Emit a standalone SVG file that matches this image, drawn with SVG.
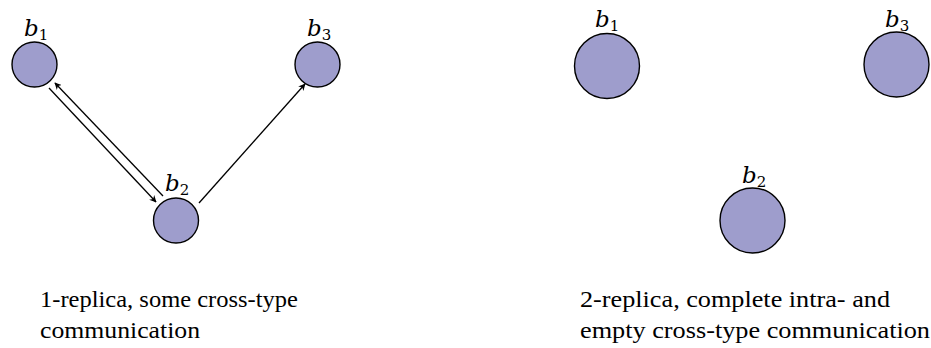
<svg xmlns="http://www.w3.org/2000/svg" width="931" height="348" viewBox="0 0 931 348">
<style>
.n{fill:#9e9dcc;stroke:#000;stroke-width:1.4}
.lbl{font-family:'DejaVu Serif','Liberation Serif',serif;font-style:italic;font-size:23px;fill:#000}
.sub{font-style:normal;font-size:15px}
.cap{font-family:'Liberation Serif','DejaVu Serif',serif;font-size:23px;fill:#000}
.e{stroke:#000;stroke-width:1.3;fill:none;marker-end:url(#ah)}
</style>
<defs>
<marker id="ah" viewBox="0 0 10 10" refX="9" refY="5" markerWidth="7" markerHeight="7" markerUnits="userSpaceOnUse" orient="auto">
<path d="M0,0 L10,5 L0,10 L3,5 Z" fill="#000"/>
</marker>
</defs>
<g id="connectors">
<line class="e" x1="49" y1="88" x2="156" y2="202"/>
<line class="e" x1="163" y1="196" x2="55" y2="83"/>
<line class="e" x1="199" y1="203" x2="305" y2="84"/>
</g>
<g id="L-b1"><circle class="n" cx="34.5" cy="64.5" r="22.5"/><text class="lbl" x="24" y="36">b<tspan class="sub" dy="4">1</tspan></text></g>
<g id="L-b3"><circle class="n" cx="317.5" cy="64.5" r="22.5"/><text class="lbl" x="307" y="36">b<tspan class="sub" dy="4">3</tspan></text></g>
<g id="L-b2"><circle class="n" cx="176" cy="220.5" r="22.5"/><text class="lbl" x="165" y="191">b<tspan class="sub" dy="4">2</tspan></text></g>
<g id="R-b1"><circle class="n" cx="607" cy="66" r="32.5"/><text class="lbl" x="595" y="27">b<tspan class="sub" dy="4">1</tspan></text></g>
<g id="R-b3"><circle class="n" cx="896.5" cy="64.5" r="32.5"/><text class="lbl" x="885" y="27">b<tspan class="sub" dy="4">3</tspan></text></g>
<g id="R-b2"><circle class="n" cx="752.5" cy="220.5" r="32.5"/><text class="lbl" x="742" y="183">b<tspan class="sub" dy="4">2</tspan></text></g>
<g id="captions">
<text class="cap" x="40" y="307" textLength="258" lengthAdjust="spacingAndGlyphs">1-replica, some cross-type</text>
<text class="cap" x="40" y="338" textLength="160" lengthAdjust="spacingAndGlyphs">communication</text>
<text class="cap" x="580" y="307" textLength="310" lengthAdjust="spacingAndGlyphs">2-replica, complete intra- and</text>
<text class="cap" x="580" y="338" textLength="350" lengthAdjust="spacingAndGlyphs">empty cross-type communication</text>
</g>
</svg>
